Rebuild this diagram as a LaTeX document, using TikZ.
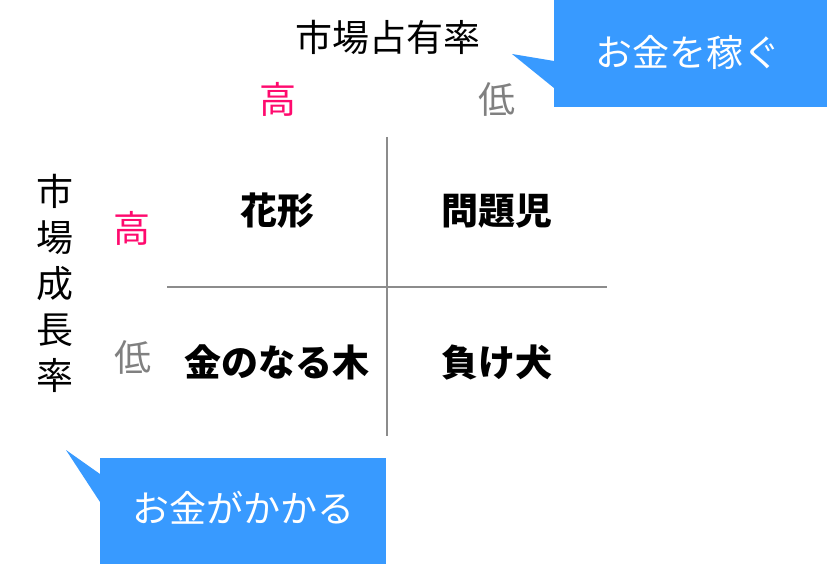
\documentclass[tikz,border=0pt]{standalone}
\usepackage{fontspec}
\setmainfont{Noto Sans CJK JP}
\definecolor{callblue}{RGB}{56,154,255}
\definecolor{hipink}{RGB}{255,10,110}
\definecolor{logray}{RGB}{128,128,128}
\definecolor{gridgray}{RGB}{140,140,140}
\begin{document}
\begin{tikzpicture}[x=1pt,y=-1pt,
  lbl/.style={inner sep=0pt,anchor=base,font=\fontsize{37}{46}\selectfont},
  celltext/.style={lbl,font=\fontsize{37}{46}\selectfont\bfseries},
  hi/.style={lbl,text=hipink},
  lo/.style={lbl,text=logray},
  callbox/.style={fill=callblue,draw=none,inner sep=0pt,anchor=north west},
  calltext/.style={lbl,text=white},
  gridline/.style={draw=gridgray,line width=1.5pt}]
\useasboundingbox (0,0) rectangle (827,564);
% grid
\coordinate (vt) at (387,137);
\coordinate (vb) at (387,436);
\coordinate (hl) at (167,287);
\coordinate (hr) at (607,287);
\draw[gridline] (vt) -- (vb);
\draw[gridline] (hl) -- (hr);
% axis titles
\node[lbl] (title) at (388,52) {市場占有率};
\node[lbl,align=center,anchor=center] (vtitle) at (55,283) {市\\場\\成\\長\\率};
% top labels
\node[hi] (tophi) at (278,114) {高};
\node[lo] (toplo) at (497,114) {低};
% left labels
\node[hi] (lefthi) at (132,242) {高};
\node[lo] (leftlo) at (133,371) {低};
% cells
\node[celltext] (star) at (277,225) {花形};
\node[celltext] (problem) at (497,225) {問題児};
\node[celltext] (cow) at (277,376) {金のなる木};
\node[celltext] (dog) at (497,376) {負け犬};
% top callout
\node[callbox,minimum width=273pt,minimum height=107pt] (cb1) at (554,0) {};
\coordinate (tip1) at (512,54);
\fill[callblue] ([yshift=-61pt]cb1.north west) -- (tip1) -- ([yshift=-88pt]cb1.north west) -- cycle;
\node[calltext] (ct1) at (688,67) {お金を稼ぐ};
% bottom callout
\node[callbox,minimum width=286pt,minimum height=106pt] (cb2) at (100,458) {};
\coordinate (tip2) at (66,450);
\fill[callblue] ([yshift=-16pt]cb2.north west) -- (tip2) -- ([yshift=-44pt]cb2.north west) -- cycle;
\node[calltext] (ct2) at (243,522) {お金がかかる};
\end{tikzpicture}
\end{document}
